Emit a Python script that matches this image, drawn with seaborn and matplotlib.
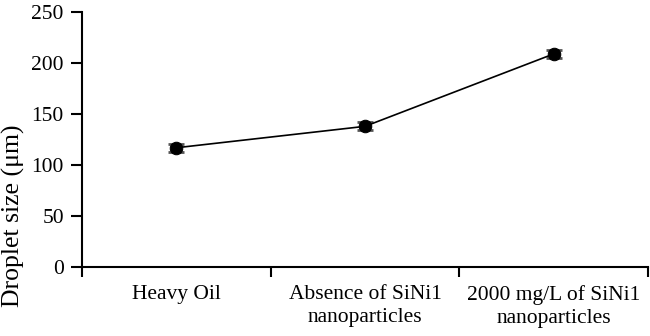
import matplotlib.pyplot as plt
import seaborn as sns
import numpy as np
import pandas as pd

categories = ["Heavy Oil", "Absence of SiNi1\nnanoparticles", "2000 mg/L of SiNi1\nnanoparticles"]
droplet_size = [117, 138, 209]
droplet_err = [4, 4, 4]

sns.set_theme(style="white")
plt.rcParams['font.family'] = ['Liberation Serif', 'DejaVu Serif']

fig, ax = plt.subplots(figsize=(6.5, 3.36), dpi=100)
fig.subplots_adjust(left=0.126, right=0.997, top=0.964, bottom=0.205)

df = pd.DataFrame({"cat": categories, "size": droplet_size})
xpos = np.arange(len(categories))

ax.errorbar(xpos, droplet_size, yerr=droplet_err, fmt='none', ecolor='#555555',
            elinewidth=1.5, capsize=6, capthick=2, zorder=2)
sns.lineplot(x=xpos, y="size", data=df, color='black', linewidth=1.2,
             marker='o', markersize=9, markeredgecolor='black', ax=ax, zorder=3)

ax.set_xlim(-0.5, 2.5)
ax.set_ylim(0, 250)
ax.set_yticks(range(0, 251, 50))
ax.set_xticks(xpos)
ax.set_xticklabels(categories, linespacing=1.25)
ax.set_xticks([-0.5, 0.5, 1.5, 2.5], minor=True)
ax.tick_params(axis='x', which='major', length=0, pad=13, labelsize=15.5, colors='black')
ax.tick_params(axis='x', which='minor', length=7, width=1.5, direction='out', bottom=True, color='black')
ax.tick_params(axis='y', length=8, width=1.5, direction='out', left=True, labelsize=15.5,
               colors='black', pad=5)
ax.set_ylabel("Droplet size (μm)", fontsize=18.5, color='black')
ax.yaxis.set_label_coords(-0.1, 0.2)
ax.set_xlabel("")

for s in ['top', 'right']:
    ax.spines[s].set_visible(False)
for s in ['left', 'bottom']:
    ax.spines[s].set_color('black')
    ax.spines[s].set_linewidth(1.5)

plt.savefig("out.png")
